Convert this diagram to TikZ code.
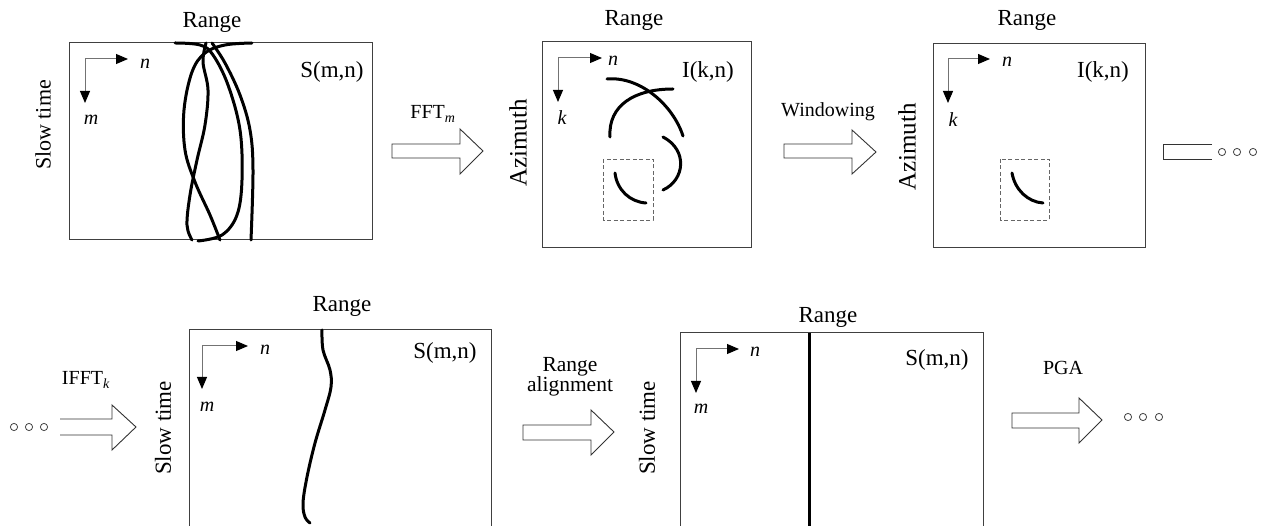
\documentclass[tikz,border=0pt]{standalone}
\usepackage{fontspec}
\setmainfont{Liberation Serif}
\usetikzlibrary{arrows.meta}
\begin{document}
\begin{tikzpicture}[x=1pt,y=-1pt,
  frame/.style={draw=black!75, line width=1pt},
  axisline/.style={draw=black!55, line width=1pt, -{Triangle[length=12pt,width=10pt,color=black]}},
  curve/.style={line width=3pt, line cap=round},
  winbox/.style={draw=black!60, line width=0.9pt, dash pattern=on 4pt off 2.5pt},
  blk/.style={draw=black!80, line width=0.9pt, fill=white, line join=miter},
  lab/.style={font=\fontsize{23}{25}\selectfont, inner sep=0pt},
  slab/.style={font=\fontsize{20}{22}\selectfont, inner sep=0pt},
  azlab/.style={font=\fontsize{25}{27}\selectfont, inner sep=0pt},
  stlab/.style={font=\fontsize{22}{24}\selectfont, inner sep=0pt},
  var/.style={font=\fontsize{20}{22}\selectfont\itshape, inner sep=0pt},
  dot/.style={draw=black!75, line width=0.8pt}
]
\useasboundingbox (0,0) rectangle (1261,526);

% ---------------- Panel 1 ----------------
\draw[frame] (69,43) rectangle (372,240);
\node[lab] (p1range) at (212,22) {Range};
\node[stlab, rotate=90] (p1slow) at (43,125) {Slow time};
\node[lab] (p1s) at (332,72) {S(m,n)};
\coordinate (p1o) at (85,59);
\draw[axisline] (p1o) -- (128,59);
\draw[axisline] (p1o) -- (85,103);
\node[var] (p1n) at (145,64) {n};
\node[var] (p1m) at (91,120) {m};
\draw[curve] plot[smooth, tension=0.6] coordinates {(175,43) (200,45) (213,55) (228,85) (240,130) (242,180) (237,215) (222,235) (198,241)};
\draw[curve] plot[smooth, tension=0.6] coordinates {(252,43) (225,45) (205,53) (192,72) (184,110) (185,150) (195,182) (210,215) (220,240)};
\draw[curve] plot[smooth, tension=0.6] coordinates {(206,43) (203,62) (208,90) (205,125) (197,160) (190,195) (187,225) (192,240)};
\draw[curve] plot[smooth, tension=0.6] coordinates {(212,43) (225,63) (240,95) (250,130) (253,170) (251,240)};

% FFT arrow
\draw[blk] (392,144) -- (460,144) -- (460,129) -- (483,151) -- (460,174) -- (460,158) -- (392,158) -- cycle;
\node[slab] (fft) at (433,114) {FFT\textsubscript{\textit{m}}};

% ---------------- Panel 2 ----------------
\draw[frame] (542,42) rectangle (751,248);
\node[lab] (p2range) at (634,20) {Range};
\node[azlab, rotate=90] (p2az) at (518,143) {Azimuth};
\node[lab] (p2i) at (708,72) {I(k,n)};
\coordinate (p2o) at (558,58);
\draw[axisline] (p2o) -- (602,58);
\draw[axisline] (p2o) -- (558,102);
\node[var] (p2n) at (613,61) {n};
\node[var] (p2k) at (562,118) {k};
\draw[curve] (607,79) .. controls (640,76) and (673,105) .. (683,136);
\draw[curve] (610,137) .. controls (608,105) and (635,89) .. (673,89);
\draw[curve] (663,137) .. controls (688,150) and (685,180) .. (663,190);
\draw[curve] (615,173) .. controls (617,190) and (630,202) .. (646,203);
\draw[winbox] (603,159) rectangle (653,220);

% Windowing arrow
\draw[blk] (784,144) -- (852,144) -- (852,130) -- (876,152) -- (852,174) -- (852,158) -- (784,158) -- cycle;
\node[slab] (win) at (828,112) {Windowing};

% ---------------- Panel 3 ----------------
\draw[frame] (933,44) rectangle (1145,248);
\node[lab] (p3range) at (1027,20) {Range};
\node[azlab, rotate=90] (p3az) at (907,147) {Azimuth};
\node[lab] (p3i) at (1103,72) {I(k,n)};
\coordinate (p3o) at (948,59);
\draw[axisline] (p3o) -- (990,59);
\draw[axisline] (p3o) -- (948,103);
\node[var] (p3n) at (1007,62) {n};
\node[var] (p3k) at (953,120) {k};
\draw[curve] (1012,173) .. controls (1015,190) and (1028,202) .. (1043,203);
\draw[winbox] (1000,159) rectangle (1049,220);

% partial arrow + dots
\draw[blk] (1212,144) -- (1163,144) -- (1163,159) -- (1212,159);
\foreach \x in {1222,1237,1253} \draw[dot] (\x,152) circle (3.6);

% ---------------- Bottom row ----------------
\foreach \x in {14,29,44} \draw[dot] (\x,427) circle (3.6);
\draw[blk] (60,419) -- (112,419) -- (112,405) -- (136,427) -- (112,450) -- (112,435) -- (60,435);
\node[slab] (ifft) at (86,380) {IFFT\textsubscript{\textit{k}}};

% Panel 4
\draw[frame] (189,540) -- (189,330) -- (491,330) -- (491,540);
\node[lab] (p4range) at (342,306) {Range};
\node[lab, rotate=90] (p4slow) at (163,428) {Slow time};
\node[lab] (p4s) at (445,353) {S(m,n)};
\coordinate (p4o) at (202,346);
\draw[axisline] (p4o) -- (248,346);
\draw[axisline] (p4o) -- (202,389);
\node[var] (p4n) at (265,350) {n};
\node[var] (p4m) at (207,407) {m};
\draw[curve] plot[smooth, tension=0.6] coordinates {(322,330) (323,350) (330,370) (331,387) (325,410) (315,443) (307,477) (303,503) (305,517) (310,523)};

% Range alignment arrow
\draw[blk] (523,425) -- (591,425) -- (591,410) -- (614,432) -- (591,455) -- (591,440) -- (523,440) -- cycle;
\node[font=\fontsize{21.5}{20}\selectfont, inner sep=0pt, align=center] (ralign) at (570,377) {Range\\alignment};

% Panel 5
\draw[frame] (680,540) -- (680,333) -- (983,333) -- (983,540);
\node[lab] (p5range) at (828,317) {Range};
\node[lab, rotate=90] (p5slow) at (647,428) {Slow time};
\node[lab] (p5s) at (937,360) {S(m,n)};
\coordinate (p5o) at (696,349);
\draw[axisline] (p5o) -- (739,349);
\draw[axisline] (p5o) -- (696,393);
\node[var] (p5n) at (755,352) {n};
\node[var] (p5m) at (701,409) {m};
\draw[line width=3pt] (809,333) -- (809,540);

% PGA arrow
\draw[blk] (1012,413) -- (1079,413) -- (1079,398) -- (1102,420) -- (1079,443) -- (1079,428) -- (1012,428) -- cycle;
\node[slab] (pga) at (1063,368) {PGA};
\foreach \x in {1128,1143,1159} \draw[dot] (\x,417) circle (3.6);
\end{tikzpicture}
\end{document}
